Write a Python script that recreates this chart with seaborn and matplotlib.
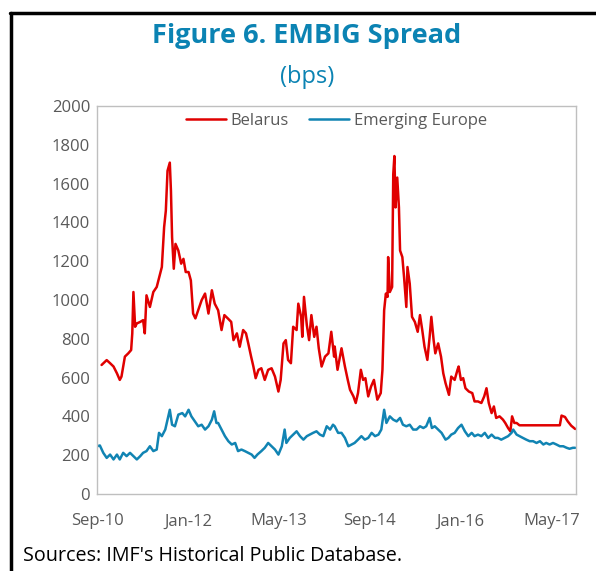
import numpy as np
import pandas as pd
import matplotlib
matplotlib.use('Agg')
import matplotlib.pyplot as plt
import seaborn as sns
from matplotlib.lines import Line2D

# Dữ liệu (tháng kể từ Sep-2010, bps)
bel_month = [0.8, 1.7, 2.3, 2.9, 3.5, 4.0, 4.3, 4.9, 5.5, 6.0, 6.2, 6.4, 6.7, 7.0, 7.6, 8.1, 8.4, 8.7,
             9.3, 9.9, 10.5, 11.1, 11.4, 11.8, 12.1, 12.4, 12.8, 13.0, 13.2, 13.5, 13.8, 14.3, 14.8,
             15.2, 15.6, 16.1, 16.5, 16.9, 17.3, 17.8, 18.4, 19.0, 19.6, 20.2, 20.7,
             21.3, 21.9, 22.4, 23.0, 23.6, 24.0, 24.6, 25.1, 25.7, 26.2, 26.6, 27.1, 27.5, 27.9,
             28.4, 28.9, 29.5, 30.1, 30.7, 31.3, 31.9, 32.3, 32.8, 33.2, 33.6, 34.1, 34.5, 35.1,
             35.4, 35.9, 36.1, 36.4, 36.9, 37.3, 37.7, 38.2, 38.6, 39.0, 39.5, 40.1, 40.7, 41.2,
             41.7, 41.8, 42.3, 43.0, 43.6, 44.1, 44.5, 45.1, 45.5, 45.9, 46.4, 46.8, 47.2, 47.7,
             48.2, 48.7, 49.3, 49.9, 50.2, 50.5, 50.8, 51.1, 51.2, 51.5, 51.9, 52.1, 52.3, 52.5,
             52.8, 53.1, 53.3, 53.7, 54.0, 54.4, 54.6, 55.0, 55.4, 55.9, 56.4, 56.8, 57.2, 57.6,
             58.1, 58.5, 58.8, 59.2, 59.5, 60.0, 60.5, 60.9, 61.3, 61.9, 62.3, 62.9,
             63.4, 63.6, 64.0, 64.4, 64.8, 65.4, 66.0, 66.4, 67.0, 67.6, 68.1, 68.5, 68.9, 69.4,
             69.8, 70.2, 70.8, 71.4, 71.8, 72.3, 72.7, 73.0, 73.4, 73.8, 74.3, 74.9, 81.4, 81.7,
             82.3, 82.8, 83.4, 84.1]
bel_bps = [665, 690, 674, 657, 622, 588, 605, 708, 725, 742, 828, 1041, 862, 879, 887, 896, 828, 1024,
           964, 1041, 1067, 1135, 1170, 1375, 1460, 1666, 1708, 1563, 1323, 1161, 1289, 1255, 1187,
           1212, 1144, 1144, 1101, 930, 905, 947, 999, 1033, 930, 1050, 981,
           947, 845, 922, 905, 887, 793, 828, 759, 845, 828, 776, 708, 657, 597,
           640, 648, 588, 640, 648, 605, 528, 588, 776, 793, 691, 674, 862, 845,
           981, 913, 810, 1016, 870, 793, 922, 810, 862, 751, 657, 708, 725, 836,
           708, 760, 640, 751, 657, 588, 537, 503, 469, 520, 640, 588, 597, 503,
           554, 588, 486, 520, 640, 947, 1033, 1016, 1221, 1041, 1067, 1648, 1742, 1477,
           1631, 1477, 1255, 1221, 1118, 964, 1170, 1084, 913, 887, 836, 922, 845, 759,
           691, 810, 913, 793, 725, 776, 708, 622, 571, 511, 605, 588,
           640, 657, 588, 597, 545, 528, 520, 477, 477, 469, 503, 545, 469, 417,
           451, 392, 400, 383, 366, 340, 323, 400, 366, 366, 354, 354, 354, 404,
           397, 374, 352, 335]

eur_month = [0.0, 0.5, 1.1, 1.7, 2.3, 2.9, 3.5, 4.0, 4.6, 5.2, 5.8, 6.4, 7.0, 7.6, 8.1, 8.7, 9.3, 9.9,
             10.5, 10.9, 11.4, 12.0, 12.4, 12.8, 13.2, 13.7, 14.3, 15.0, 15.5, 16.1, 16.6, 17.2,
             17.8, 18.4, 19.0, 19.6, 20.2, 20.6, 21.0,
             21.3, 21.9, 22.5, 23.1, 23.7, 24.3, 24.8, 25.4, 26.0, 26.6, 27.2, 27.7, 28.2, 28.9,
             29.5, 30.1, 30.7, 31.3, 31.9, 32.5, 33.0, 33.3, 33.9, 34.5, 35.1, 35.7, 36.3, 36.9,
             37.4, 38.0, 38.6, 39.2, 39.8, 40.4, 41.0, 41.5,
             41.8, 42.4, 43.0, 43.6, 44.2, 44.8, 45.3, 45.9, 46.5, 47.1, 47.7, 48.3, 48.9, 49.5,
             50.0, 50.5, 50.9, 51.5, 52.1, 52.7, 53.3, 53.8, 54.4, 55.0, 55.6, 56.2, 56.8, 57.4,
             57.9, 58.5, 58.9, 59.4, 60.0, 60.6, 61.3, 61.8, 62.3, 62.9, 63.5,
             64.1, 64.7, 65.3, 65.9, 66.4, 67.0, 67.6, 68.2, 68.8, 69.4, 70.0, 70.5, 71.1, 71.7,
             72.3, 72.9, 73.2, 73.8, 74.3, 74.9, 75.5, 76.1, 76.7, 77.3, 77.9, 78.5, 79.0, 79.6,
             80.2, 80.8, 81.4, 82.0, 82.6, 83.1, 83.7, 84.1]
eur_bps = [246, 250, 212, 186, 203, 178, 203, 178, 212, 195, 212, 195, 178, 195, 212, 221, 246, 221,
           229, 315, 298, 332, 383, 434, 357, 349, 409, 417, 400, 434, 400, 374,
           349, 357, 332, 349, 383, 426, 366,
           366, 332, 298, 272, 255, 263, 221, 229, 221, 212, 203, 186, 203, 221,
           238, 263, 246, 229, 203, 246, 332, 263, 289, 306, 323, 298, 280, 298,
           306, 315, 323, 306, 298, 349, 332, 357,
           349, 315, 315, 289, 246, 255, 263, 280, 298, 280, 289, 315, 298, 306,
           332, 434, 366, 400, 383, 374, 392, 357, 349, 357, 332, 332, 349, 340,
           349, 392, 340, 349, 332, 315, 280, 289, 306, 315, 340,
           357, 323, 298, 315, 298, 306, 298, 315, 289, 306, 289, 289, 280, 289,
           298, 315, 332, 306, 298, 289, 280, 272, 272, 263, 272, 255, 263, 255,
           263, 255, 246, 246, 238, 233, 238, 238]

tick_dates = ['2010-09-01', '2012-01-01', '2013-05-01', '2014-09-01', '2016-01-01', '2017-05-01']
tick_labels = ['Sep-10', 'Jan-12', 'May-13', 'Sep-14', 'Jan-16', 'May-17']

start = pd.Timestamp('2010-09-01')
bel = pd.DataFrame({'date': start + pd.to_timedelta(np.array(bel_month) * 30.4375, unit='D'),
                    'bps': bel_bps})
eur = pd.DataFrame({'date': start + pd.to_timedelta(np.array(eur_month) * 30.4375, unit='D'),
                    'bps': eur_bps})

sns.set_style('white')
plt.rcParams['font.family'] = ['Open Sans', 'DejaVu Sans']

fig = plt.figure(figsize=(5.96, 5.71), dpi=100)
ax = fig.add_axes([0.1628, 0.1349, 0.8036, 0.6795])

sns.lineplot(data=bel, x='date', y='bps', color='#e00000', lw=1.8, label='Belarus', ax=ax)
sns.lineplot(data=eur, x='date', y='bps', color='#1184b3', lw=1.8, label='Emerging Europe', ax=ax)

ax.set_xlim(pd.Timestamp('2010-09-01'), pd.Timestamp('2017-09-08'))
ax.set_ylim(0, 2000)
ax.set_yticks(range(0, 2001, 200))
ax.set_xticks(pd.to_datetime(tick_dates))
ax.set_xticklabels(tick_labels)
ax.set_xlabel('')
ax.set_ylabel('')
for s in ax.spines.values():
    s.set_color('#bfbfbf')
    s.set_linewidth(1)
ax.tick_params(axis='both', direction='in', length=4, color='#bfbfbf', labelsize=12,
               labelcolor='#595959')
ax.tick_params(axis='x', pad=14)
ax.tick_params(axis='y', pad=5)

leg = ax.legend(loc='upper center', ncol=2, frameon=False, fontsize=12, handlelength=2.4,
                handletextpad=0.3, columnspacing=1.2, bbox_to_anchor=(0.5, 1.02))
for t in leg.get_texts():
    t.set_color('#595959')

fig.text(0.515, 0.937, 'Figure 6. EMBIG Spread', ha='center', va='center', fontsize=19.5,
         fontweight='bold', color='#0b83b3')
fig.text(0.515, 0.866, '(bps)', ha='center', va='center', fontsize=17, color='#0b83b3')
fig.text(0.039, 0.027, "Sources: IMF's Historical Public Database.", ha='left', va='center',
         fontsize=14.2, color='black')

# khung đen phía trên và bên trái
fig.add_artist(Line2D([0.017, 1.0], [0.978, 0.978], color='black', lw=2.5, transform=fig.transFigure))
fig.add_artist(Line2D([0.019, 0.019], [0.0, 0.978], color='black', lw=2.5, transform=fig.transFigure))

plt.savefig('out.png', dpi=100)
